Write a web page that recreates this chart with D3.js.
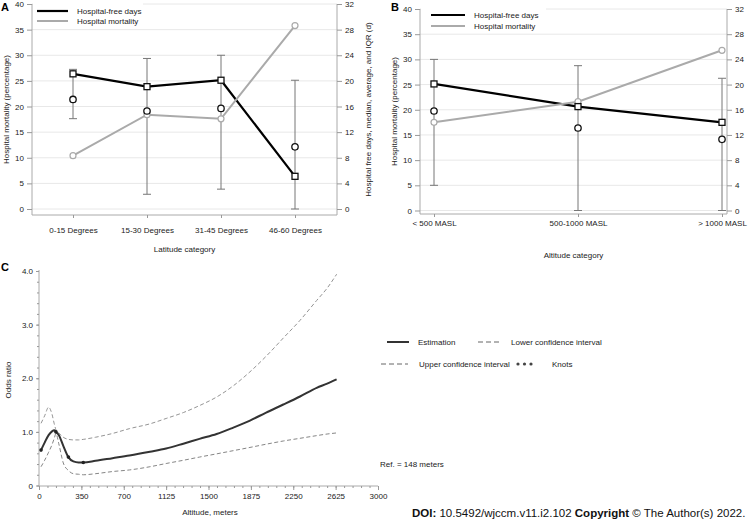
<!DOCTYPE html>
<html>
<head>
<meta charset="utf-8">
<script src="https://cdn.jsdelivr.net/npm/d3@7"></script>
<style>
  body { margin: 0; background: #fff; }
  svg { display: block; font-family: "Liberation Sans", Arial, sans-serif; }
  .axis text { font-size: 8px; fill: #222; }
  .axis line { stroke: #999; }
  .lbl { font-size: 8px; fill: #222; }
</style>
</head>
<body>
<div class="chart"></div>
<script>
// DATA ------------------------------------
// panel A : latitude
const latCats = ["0-15 Degrees", "15-30 Degrees", "31-45 Degrees", "46-60 Degrees"];
const latMortality = [10.4, 18.4, 17.6, 35.8];      // % (left axis)
const latFreeMedian = [21.1, 19.1, 20.1, 5.1];      // days (right axis)
const latFreeAverage = [17.1, 15.3, 15.7, 9.7];
const latIqrLow = [14.1, 2.3, 3.1, 0];
const latIqrHigh = [21.8, 23.5, 24.0, 20.1];

// panel B : altitude category
const altCats = ["< 500 MASL", "500-1000 MASL", "> 1000 MASL"];
const altMortality = [17.5, 21.6, 31.8];
const altFreeMedian = [20.1, 16.5, 14.0];
const altFreeAverage = [15.8, 13.1, 11.3];
const altIqrLow = [4.0, 0, 0];
const altIqrHigh = [24.0, 23.0, 21.0];

const leftTicks = [0, 5, 10, 15, 20, 25, 30, 35, 40];
const rightTicks = [0, 4, 8, 12, 16, 20, 24, 28, 32];

// panel C : spline odds ratio
const altitudeM = [18, 50, 85, 115, 135, 150, 175, 215, 260, 304, 350, 392, 500, 650, 800, 982,
                   1125, 1277, 1420, 1572, 1720, 1867, 2010, 2162, 2310, 2457, 2550, 2634];
const estimation = [0.66, 0.80, 0.94, 1.01, 1.03, 1.00, 0.94, 0.74, 0.53, 0.45, 0.43, 0.43, 0.46, 0.51, 0.56, 0.63,
                    0.69, 0.78, 0.87, 0.96, 1.08, 1.21, 1.36, 1.51, 1.66, 1.82, 1.90, 1.98];
const upperCI = [1.16, 1.30, 1.46, 1.33, 1.15, 1.04, 0.98, 0.90, 0.86, 0.85, 0.85, 0.86, 0.90, 0.97, 1.06, 1.15,
                 1.25, 1.36, 1.49, 1.65, 1.86, 2.12, 2.41, 2.75, 3.08, 3.45, 3.68, 3.94];
const lowerCI = [0.35, 0.47, 0.62, 0.76, 0.88, 0.97, 0.78, 0.42, 0.28, 0.22, 0.21, 0.20, 0.22, 0.26, 0.29, 0.35,
                 0.41, 0.47, 0.53, 0.59, 0.65, 0.71, 0.77, 0.83, 0.88, 0.93, 0.96, 0.98];
const knotAltitude = [18, 150, 260, 392];
const knotOR = [0.66, 1.00, 0.53, 0.43];
const xTickValues = [0, 375, 750, 1125, 1500, 1875, 2250, 2625, 3000];
const xTickLabels = ["0", "350", "700", "1125", "1500", "1875", "2250", "2625", "3000"];
const orTicks = [0, 1, 2, 3, 4];
const orTickLabels = ["0", "1.0", "2.0", "3.0", "4.0"];

// CHART INIT ------------------------------
const width = 751, height = 531;
const svg = d3.select(".chart")
    .append("svg")
    .attr("width", width)
    .attr("height", height);

// dual axis panel (A and B)
function dualPanel(o) {
  const g = svg.append("g");
  let yL = d3.scaleLinear().domain([0, 40]).range([o.bottom, o.top]);
  let yR = d3.scaleLinear().domain([0, 32]).range([o.bottom, o.top]);
  let x = d3.scalePoint().domain(o.cats).range([o.x0, o.x1]);

  // gridlines
  g.selectAll(".grid").data(leftTicks).enter().append("line")
    .attr("x1", o.left).attr("x2", o.right)
    .attr("y1", d => yL(d)).attr("y2", d => yL(d))
    .attr("stroke", "#e8e8e8");

  // frame
  g.append("path")
    .attr("d", `M${o.left},${o.top}V${o.axisY}H${o.right}V${o.top}`)
    .attr("fill", "none").attr("stroke", "#aaa");

  let la = g.append("g").attr("class", "axis")
    .attr("transform", `translate(${o.left},0)`)
    .call(d3.axisLeft(yL).tickValues(leftTicks).tickSize(5).tickPadding(3));
  la.select(".domain").remove();
  let ra = g.append("g").attr("class", "axis")
    .attr("transform", `translate(${o.right},0)`)
    .call(d3.axisRight(yR).tickValues(rightTicks).tickSize(5).tickPadding(3));
  ra.select(".domain").remove();
  let ba = g.append("g").attr("class", "axis")
    .attr("transform", `translate(0,${o.axisY})`)
    .call(d3.axisBottom(x).tickSize(3).tickPadding(o.catPad));
  ba.select(".domain").remove();

  // axis titles
  g.append("text").attr("class", "lbl")
    .attr("transform", `translate(${o.leftTitleX},${(o.top + o.axisY) / 2}) rotate(-90)`)
    .attr("text-anchor", "middle").attr("dy", "0.35em")
    .text("Hospital mortality (percentage)");
  if (o.rightTitle) {
    g.append("text").attr("class", "lbl")
      .attr("transform", `translate(${o.rightTitleX},${(o.top + o.axisY) / 2}) rotate(-90)`)
      .attr("text-anchor", "middle").attr("dy", "0.35em")
      .text(o.rightTitle);
  }
  g.append("text").attr("class", "lbl")
    .attr("x", (o.left + o.right) / 2).attr("y", o.xTitleY)
    .attr("text-anchor", "middle").attr("dy", "0.35em")
    .text(o.xTitle);

  // error bars (IQR)
  let idx = d3.range(o.cats.length);
  let eb = g.selectAll(".eb").data(idx).enter().append("g").attr("stroke", "#777");
  eb.append("line")
    .attr("x1", i => x(o.cats[i])).attr("x2", i => x(o.cats[i]))
    .attr("y1", i => yR(o.low[i])).attr("y2", i => yR(o.high[i]));
  eb.append("line")
    .attr("x1", i => x(o.cats[i]) - 4).attr("x2", i => x(o.cats[i]) + 4)
    .attr("y1", i => yR(o.low[i])).attr("y2", i => yR(o.low[i]));
  eb.append("line")
    .attr("x1", i => x(o.cats[i]) - 4).attr("x2", i => x(o.cats[i]) + 4)
    .attr("y1", i => yR(o.high[i])).attr("y2", i => yR(o.high[i]));

  // lines
  g.append("path").datum(idx)
    .attr("d", d3.line().x(i => x(o.cats[i])).y(i => yR(o.median[i])))
    .attr("fill", "none").attr("stroke", "#000").attr("stroke-width", 2.2);
  g.append("path").datum(idx)
    .attr("d", d3.line().x(i => x(o.cats[i])).y(i => yL(o.mort[i])))
    .attr("fill", "none").attr("stroke", "#aaa").attr("stroke-width", 2);

  // markers
  g.selectAll(".mc").data(idx).enter().append("circle")
    .attr("cx", i => x(o.cats[i])).attr("cy", i => yL(o.mort[i])).attr("r", 3)
    .attr("fill", "#fff").attr("stroke", "#aaa").attr("stroke-width", 1.2);
  g.selectAll(".av").data(idx).enter().append("circle")
    .attr("cx", i => x(o.cats[i])).attr("cy", i => yR(o.avg[i])).attr("r", 3.2)
    .attr("fill", "#fff").attr("stroke", "#111").attr("stroke-width", 1.3);
  g.selectAll(".sq").data(idx).enter().append("rect")
    .attr("x", i => x(o.cats[i]) - 3).attr("y", i => yR(o.median[i]) - 3)
    .attr("width", 6).attr("height", 6)
    .attr("fill", "#fff").attr("stroke", "#111").attr("stroke-width", 1.3);

  // legend
  let lg = g.append("g");
  lg.append("rect").attr("x", o.lgBox[0]).attr("y", 0)
    .attr("width", o.lgBox[1]).attr("height", o.lgBox[2]).attr("fill", "#fff");
  [["Hospital-free days", "#000", 2.2], ["Hospital mortality", "#aaa", 2]].forEach((s, k) => {
    let yy = o.lgY + k * o.lgStep;
    lg.append("line").attr("x1", o.lgX).attr("x2", o.lgX + o.lgLen)
      .attr("y1", yy).attr("y2", yy).attr("stroke", s[1]).attr("stroke-width", s[2]);
    lg.append("text").attr("class", "lbl").attr("x", o.lgX + o.lgLen + 9).attr("y", yy)
      .attr("dy", "0.35em").text(s[0]);
  });

  svg.append("text").attr("x", o.letterX).attr("y", 11)
    .attr("font-size", "11px").attr("font-weight", "bold").text(o.letter);
}

dualPanel({
  letter: "A", letterX: 1,
  cats: latCats, mort: latMortality, median: latFreeMedian, avg: latFreeAverage,
  low: latIqrLow, high: latIqrHigh,
  top: 4, bottom: 209, axisY: 215, left: 32, right: 337, x0: 73, x1: 295, catPad: 9,
  leftTitleX: 6, rightTitle: "Hospital free days, median, average, and IQR (d)", rightTitleX: 368,
  xTitle: "Latitude category", xTitleY: 249,
  lgBox: [33, 110, 28], lgX: 37, lgLen: 31, lgY: 11, lgStep: 10
});

dualPanel({
  letter: "B", letterX: 391,
  cats: altCats, mort: altMortality, median: altFreeMedian, avg: altFreeAverage,
  low: altIqrLow, high: altIqrHigh,
  top: 9, bottom: 210.5, axisY: 214, left: 420, right: 727, x0: 434, x1: 722, catPad: 3,
  leftTitleX: 394, rightTitle: null,
  xTitle: "Altitude category", xTitleY: 255,
  lgBox: [421, 125, 33], lgX: 431, lgLen: 34, lgY: 15, lgStep: 11
});

// PANEL C ---------------------------------
const gc = svg.append("g");
const xC = d3.scaleLinear().domain([0, 3000]).range([39, 378]);
const yC = d3.scaleLinear().domain([0, 4]).range([485.5, 271]);

gc.append("path").attr("d", "M39,270V486H378")
  .attr("fill", "none").attr("stroke", "#aaa");

// minor ticks
gc.append("g").attr("class", "axis").attr("transform", "translate(0,486)")
  .call(d3.axisBottom(xC).tickValues(d3.range(0, 3001, 75)).tickSize(2).tickFormat(""))
  .select(".domain").remove();
gc.append("g").attr("class", "axis").attr("transform", "translate(39,0)")
  .call(d3.axisLeft(yC).tickValues(d3.range(0, 4.01, 0.2)).tickSize(2).tickFormat(""))
  .select(".domain").remove();
// major ticks
gc.append("g").attr("class", "axis").attr("transform", "translate(0,486)")
  .call(d3.axisBottom(xC).tickValues(xTickValues).tickSize(4).tickPadding(3)
    .tickFormat((d, i) => xTickLabels[i]))
  .select(".domain").remove();
gc.append("g").attr("class", "axis").attr("transform", "translate(39,0)")
  .call(d3.axisLeft(yC).tickValues(orTicks).tickSize(3).tickPadding(3)
    .tickFormat((d, i) => orTickLabels[i]))
  .select(".domain").remove();

gc.append("text").attr("class", "lbl")
  .attr("transform", "translate(8,380) rotate(-90)")
  .attr("text-anchor", "middle").attr("dy", "0.35em").text("Odds ratio");
gc.append("text").attr("class", "lbl")
  .attr("x", 210).attr("y", 512).attr("text-anchor", "middle").attr("dy", "0.35em")
  .text("Altitude, meters");

const idxC = d3.range(altitudeM.length);
function orLine(vals) {
  return d3.line().curve(d3.curveMonotoneX)
    .x(i => xC(altitudeM[i])).y(i => yC(vals[i]))(idxC);
}
gc.append("path").attr("d", orLine(upperCI))
  .attr("fill", "none").attr("stroke", "#888").attr("stroke-width", 0.9).attr("stroke-dasharray", "4,2.5");
gc.append("path").attr("d", orLine(lowerCI))
  .attr("fill", "none").attr("stroke", "#777").attr("stroke-width", 0.9).attr("stroke-dasharray", "4,2.5");
gc.append("path").attr("d", orLine(estimation))
  .attr("fill", "none").attr("stroke", "#333").attr("stroke-width", 2);
gc.selectAll(".knot").data(d3.range(knotAltitude.length)).enter().append("circle")
  .attr("cx", i => xC(knotAltitude[i])).attr("cy", i => yC(knotOR[i])).attr("r", 1.8)
  .attr("fill", "#222");

// legend C
gc.append("line").attr("x1", 387).attr("x2", 409).attr("y1", 342).attr("y2", 342)
  .attr("stroke", "#333").attr("stroke-width", 2);
gc.append("text").attr("class", "lbl").attr("x", 418).attr("y", 342).attr("dy", "0.35em").text("Estimation");
gc.append("line").attr("x1", 478).attr("x2", 500).attr("y1", 342).attr("y2", 342)
  .attr("stroke", "#666").attr("stroke-dasharray", "5,3");
gc.append("text").attr("class", "lbl").attr("x", 511).attr("y", 342).attr("dy", "0.35em").text("Lower confidence interval");
gc.append("line").attr("x1", 381).attr("x2", 408).attr("y1", 364).attr("y2", 364)
  .attr("stroke", "#666").attr("stroke-dasharray", "5,3");
gc.append("text").attr("class", "lbl").attr("x", 419).attr("y", 364).attr("dy", "0.35em").text("Upper confidence interval");
[518, 524.5, 531].forEach(cx => gc.append("circle").attr("cx", cx).attr("cy", 364).attr("r", 1.6).attr("fill", "#444"));
gc.append("text").attr("class", "lbl").attr("x", 552).attr("y", 364).attr("dy", "0.35em").text("Knots");
gc.append("text").attr("class", "lbl").attr("x", 380).attr("y", 464).attr("dy", "0.35em").text("Ref. = 148 meters");

svg.append("text").attr("x", 1).attr("y", 271)
  .attr("font-size", "11px").attr("font-weight", "bold").text("C");

// footer
const doi = svg.append("text").attr("x", 412).attr("y", 517).attr("font-size", "11.5px").attr("fill", "#111");
doi.append("tspan").attr("font-weight", "bold").text("DOI:");
doi.append("tspan").text(" 10.5492/wjccm.v11.i2.102 ");
doi.append("tspan").attr("font-weight", "bold").text("Copyright");
doi.append("tspan").text(" \u00a9 The Author(s) 2022.");
</script>
</body>
</html>
